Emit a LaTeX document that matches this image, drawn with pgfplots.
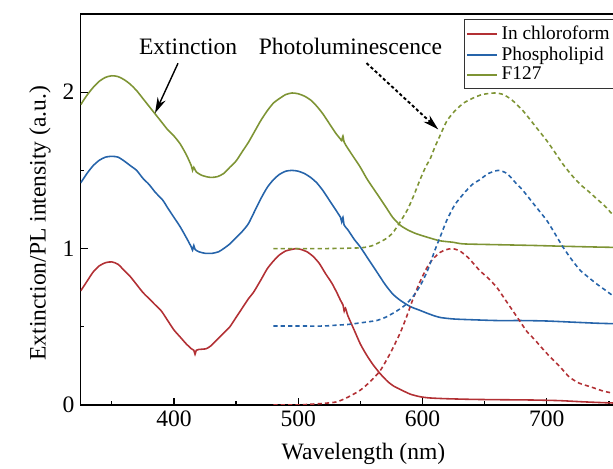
\documentclass[border=0pt]{standalone}
\usepackage{fontspec}
\setmainfont{Liberation Serif}
\usepackage{pgfplots}
\pgfplotsset{compat=1.18}
\usetikzlibrary{arrows.meta}
\definecolor{cred}{RGB}{178,48,52}
\definecolor{cblue}{RGB}{38,100,170}
\definecolor{cgreen}{RGB}{126,148,52}
\newcommand{\lblfont}{\fontsize{13.4}{16}\selectfont}

\begin{document}
\begin{tikzpicture}
\begin{axis}[
    at={(0,0)}, anchor=south west,
    scale only axis,
    width=11.31cm, height=7.82cm,
    xmin=325, xmax=780, ymin=0, ymax=2.5,
    xtick={400,500,600,700},
    minor xtick={350,450,550,650,750},
    ytick={0,1,2},
    minor ytick={0.5,1.5},
    tick align=inside,
    xtick pos=left, ytick pos=left,
    major tick length=0.14cm, minor tick length=0.07cm,
    tick style={black, line width=0.7pt},
    axis line style={line width=0.7pt, black},
    /pgf/number format/assume math mode=true,
    tick label style={font=\lblfont},
    label style={font=\lblfont},
    xlabel={Wavelength (nm)},
    xlabel style={yshift=-2pt},
    ylabel={Extinction/PL intensity (a.u.)},
    ylabel style={at={(ticklabel cs:0.465)}},
    legend style={at={(axis cs:633,2.465)}, anchor=north west,
        font=\fontsize{11}{11}\selectfont, draw=black!80, line width=0.5pt,
        inner sep=1.5pt, row sep=-1.5pt},
    legend cell align=left,
    legend image code/.code={\draw[#1, solid] (0cm,0cm) -- (0.6cm,0cm);},
    every axis plot/.append style={smooth, tension=0.4, line width=0.9pt},
]
% extinction, in chloroform
\addplot[cred] table {
325 0.73
330 0.79
335 0.85
340 0.89
345 0.91
350 0.915
355 0.90
360 0.86
365 0.82
370 0.77
375 0.72
380 0.68
385 0.64
390 0.60
395 0.54
400 0.48
405 0.435
410 0.39
414 0.36
416 0.35
417 0.325
418 0.35
420 0.355
426 0.36
430 0.38
435 0.42
440 0.46
445 0.50
450 0.56
455 0.62
460 0.68
464 0.72
470 0.80
475 0.87
480 0.92
485 0.96
490 0.985
495 0.995
498 1.0
502 0.995
507 0.98
512 0.95
517 0.905
522 0.84
527 0.78
531 0.72
534 0.67
536 0.64
537 0.60
538 0.62
540 0.57
545 0.48
550 0.39
555 0.32
560 0.26
566 0.20
572 0.15
577 0.12
582 0.10
590 0.07
598 0.053
606 0.045
620 0.04
640 0.036
660 0.034
687 0.032
710 0.028
730 0.02
753 0.013
780 0.01
};
\addlegendentry{In chloroform}
% extinction, phospholipid
\addplot[cblue] table {
325 1.42
330 1.48
335 1.53
340 1.565
345 1.585
350 1.59
355 1.585
360 1.56
365 1.53
370 1.50
375 1.45
380 1.41
385 1.36
391 1.31
395 1.26
400 1.20
405 1.14
410 1.07
414 1.01
415 0.99
416 1.02
417 0.995
420 0.98
425 0.97
431 0.97
436 0.98
440 1.00
445 1.03
450 1.07
455 1.11
460 1.16
465 1.24
470 1.32
475 1.39
480 1.44
485 1.475
490 1.495
495 1.50
500 1.495
505 1.48
510 1.455
515 1.42
520 1.37
525 1.31
530 1.25
534 1.20
535 1.17
536 1.20
537 1.15
540 1.12
545 1.06
550 1.01
555 0.95
560 0.89
565 0.83
570 0.77
576 0.71
582 0.67
590 0.63
598 0.605
606 0.58
614 0.56
625 0.55
640 0.545
660 0.54
680 0.54
700 0.537
720 0.53
740 0.523
753 0.52
780 0.515
};
\addlegendentry{Phospholipid}
% extinction, F127
\addplot[cgreen] table {
325 1.92
330 1.98
335 2.03
340 2.07
345 2.095
350 2.105
355 2.10
360 2.08
365 2.05
370 2.01
375 1.96
380 1.91
385 1.86
390 1.81
395 1.76
400 1.72
405 1.67
410 1.60
414 1.53
415 1.50
416 1.52
418 1.49
422 1.47
426 1.46
430 1.455
435 1.46
440 1.48
445 1.52
450 1.56
455 1.62
460 1.68
465 1.75
470 1.82
475 1.88
480 1.93
485 1.96
490 1.985
495 1.995
500 1.99
505 1.975
510 1.95
515 1.91
520 1.86
525 1.80
530 1.74
534 1.70
535 1.69
536 1.72
537 1.68
540 1.64
545 1.58
550 1.52
555 1.45
560 1.39
566 1.32
571 1.26
576 1.20
582 1.15
588 1.12
595 1.095
605 1.07
614 1.05
625 1.04
633 1.03
660 1.025
690 1.02
713 1.015
740 1.01
753 1.008
780 1.005
};
\addlegendentry{F127}
% photoluminescence
\addplot[cred, dash pattern=on 2.4pt off 1.8pt] table {
480 0.00
500 0.00
510 0.005
520 0.01
531 0.02
540 0.05
550 0.095
558 0.15
566 0.22
574 0.33
582 0.46
587 0.56
592 0.67
597 0.77
603 0.87
608 0.93
614 0.975
619 0.993
624 1.0
630 0.985
637 0.94
646 0.86
653 0.81
660 0.75
666 0.68
672 0.61
678 0.54
684 0.47
690 0.42
700 0.33
710 0.25
718 0.18
726 0.14
735 0.117
745 0.09
753 0.076
765 0.06
780 0.045
};
\addplot[cblue, dash pattern=on 2.4pt off 1.8pt] table {
480 0.505
500 0.505
520 0.505
530 0.51
540 0.515
550 0.525
563 0.54
570 0.56
577 0.59
582 0.615
587 0.645
593 0.70
598 0.76
603 0.84
606 0.90
610 0.99
614 1.07
619.5 1.18
626 1.28
633 1.35
640 1.41
646 1.44
653 1.48
661 1.50
668 1.48
675 1.42
681 1.37
690 1.28
700 1.18
707 1.09
713 1.01
720 0.93
727 0.86
733 0.82
740 0.775
747 0.735
753 0.70
765 0.64
780 0.59
};
\addplot[cgreen, dash pattern=on 2.4pt off 1.8pt] table {
480 1.0
520 1.0
550 1.005
560 1.02
570 1.06
576 1.10
582 1.17
588 1.25
593 1.34
598 1.44
603 1.53
606 1.57
610 1.65
614 1.72
619.5 1.815
626 1.88
633 1.93
640 1.96
648 1.985
658 1.995
665 1.985
672 1.95
681 1.88
690 1.79
700 1.69
707 1.61
713 1.54
720 1.47
727 1.41
733 1.37
740 1.32
747 1.27
753 1.22
765 1.16
780 1.10
};
\node[font=\lblfont] at (axis cs:411.4,2.293) {Extinction};
\node[font=\lblfont] at (axis cs:542,2.293) {Photoluminescence};
\draw[-{Stealth[length=9pt,width=5pt]}, line width=0.8pt] (axis cs:403.3,2.185) -- (axis cs:384.8,1.866);
\draw[-{Stealth[length=9pt,width=5pt]}, line width=1.1pt, dash pattern=on 1.8pt off 1.4pt] (axis cs:555,2.186) -- (axis cs:612.7,1.762);
\end{axis}
\pgfresetboundingbox
\path[use as bounding box] (-1.614cm,-1.28cm) rectangle (10.646cm,8.1cm);
\end{tikzpicture}
\end{document}
